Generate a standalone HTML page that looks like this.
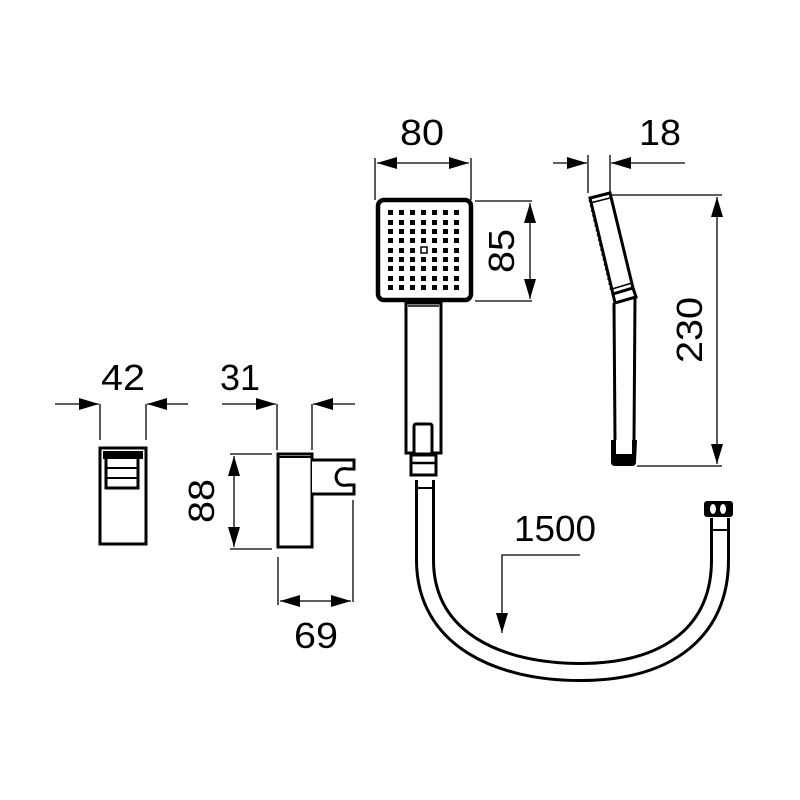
<!DOCTYPE html>
<html><head><meta charset="utf-8"><style>html,body{margin:0;padding:0;background:#fff}svg{display:block}</style></head>
<body>
<svg width="800" height="800" viewBox="0 0 800 800" xmlns="http://www.w3.org/2000/svg" font-family="Liberation Sans, sans-serif" font-size="36" fill="none" stroke="#000">
<defs>
<marker id="a" viewBox="0 0 10 10" refX="10" refY="5" markerWidth="10" markerHeight="10" markerUnits="userSpaceOnUse" orient="auto-start-reverse"><path d="M0,0 L10,5 L0,10z" fill="#000" stroke="none"/></marker>
<marker id="b" viewBox="0 0 20 12" refX="20" refY="6" markerWidth="20" markerHeight="12" markerUnits="userSpaceOnUse" orient="auto-start-reverse"><path d="M0,0 L20,6 L0,12z" fill="#000" stroke="none"/></marker>
</defs>
<g stroke-width="1.3">
<!-- 80 -->
<line x1="375" y1="158" x2="375" y2="200"/><line x1="471" y1="158" x2="471" y2="200"/>
<line x1="377" y1="163" x2="469" y2="163" marker-start="url(#b)" marker-end="url(#b)"/>
<!-- 18 -->
<line x1="588" y1="155" x2="588" y2="193"/><line x1="610" y1="155" x2="610" y2="193"/>
<line x1="553" y1="163" x2="587" y2="163" marker-end="url(#b)"/>
<line x1="685" y1="163" x2="611" y2="163" marker-end="url(#b)"/>
<!-- 85 -->
<line x1="475" y1="201" x2="532" y2="201"/><line x1="475" y1="301" x2="532" y2="301"/>
<line x1="530" y1="203" x2="530" y2="299" marker-start="url(#b)" marker-end="url(#b)"/>
<!-- 230 -->
<line x1="612" y1="195" x2="722" y2="195"/><line x1="637" y1="466" x2="722" y2="466"/>
<line x1="717" y1="197" x2="717" y2="464" marker-start="url(#b)" marker-end="url(#b)"/>
<!-- 42 -->
<line x1="100" y1="404" x2="100" y2="440"/><line x1="146" y1="404" x2="146" y2="440"/>
<line x1="55" y1="404" x2="99" y2="404" marker-end="url(#b)"/>
<line x1="188" y1="404" x2="147" y2="404" marker-end="url(#b)"/>
<!-- 31 -->
<line x1="277" y1="404" x2="277" y2="450"/><line x1="312" y1="404" x2="312" y2="450"/>
<line x1="222" y1="404" x2="276" y2="404" marker-end="url(#b)"/>
<line x1="355" y1="404" x2="313" y2="404" marker-end="url(#b)"/>
<!-- 88 -->
<line x1="230" y1="454" x2="272" y2="454"/><line x1="230" y1="549" x2="272" y2="549"/>
<line x1="234" y1="456" x2="234" y2="547" marker-start="url(#b)" marker-end="url(#b)"/>
<!-- 69 -->
<line x1="278" y1="557" x2="278" y2="605"/><line x1="353" y1="500" x2="353" y2="602"/>
<line x1="280" y1="601" x2="351" y2="601" marker-start="url(#b)" marker-end="url(#b)"/>
<!-- 1500 -->
<polyline points="580,555 502,555 502,633" marker-end="url(#b)"/>
</g>
<!-- texts -->
<g fill="#000" stroke="none" font-size="36">
<text x="422" y="145" text-anchor="middle" textLength="44" lengthAdjust="spacingAndGlyphs">80</text>
<text x="660" y="145" text-anchor="middle" textLength="42" lengthAdjust="spacingAndGlyphs">18</text>
<text x="123" y="390" text-anchor="middle" textLength="44" lengthAdjust="spacingAndGlyphs">42</text>
<text x="240" y="390" text-anchor="middle" textLength="40" lengthAdjust="spacingAndGlyphs">31</text>
<text x="316" y="648" text-anchor="middle" textLength="44" lengthAdjust="spacingAndGlyphs">69</text>
<text x="555" y="541" text-anchor="middle" textLength="82" lengthAdjust="spacingAndGlyphs">1500</text>
<text transform="translate(514,251) rotate(-90)" text-anchor="middle" textLength="44" lengthAdjust="spacingAndGlyphs">85</text>
<text transform="translate(214,501) rotate(-90)" text-anchor="middle" textLength="44" lengthAdjust="spacingAndGlyphs">88</text>
<text transform="translate(702,330) rotate(-90)" text-anchor="middle" textLength="66" lengthAdjust="spacingAndGlyphs">230</text>
</g>
<!-- hose -->
<path d="M425,480 L425,560 C425,640 500,672 580,672 C670,672 720,630 720,560 L720,518" stroke-width="20"/>
<path d="M425,480 L425,560 C425,640 500,672 580,672 C670,672 720,630 720,560 L720,518" stroke="#fff" stroke-width="14"/>
<line x1="712" y1="530" x2="728" y2="530" stroke-width="2"/>
<line x1="418" y1="488" x2="432" y2="488" stroke-width="2"/>
<rect x="704" y="501" width="29" height="16" rx="3" fill="#000" stroke="none"/>
<ellipse cx="713" cy="509" rx="3" ry="5" fill="#fff" stroke="none"/><ellipse cx="723" cy="509" rx="3" ry="5" fill="#fff" stroke="none"/>
<!-- front shower -->
<rect x="378" y="200" width="93" height="100" rx="6" stroke-width="4.5" fill="#fff"/>
<g fill="#000" stroke="none">
<rect x="388" y="210" width="5" height="5"/><rect x="399" y="210" width="5" height="5"/><rect x="410" y="210" width="5" height="5"/><rect x="421" y="210" width="5" height="5"/><rect x="432" y="210" width="5" height="5"/><rect x="443" y="210" width="5" height="5"/><rect x="454" y="210" width="5" height="5"/>
<rect x="388" y="220" width="5" height="5"/><rect x="399" y="220" width="5" height="5"/><rect x="410" y="220" width="5" height="5"/><rect x="421" y="220" width="5" height="5"/><rect x="432" y="220" width="5" height="5"/><rect x="443" y="220" width="5" height="5"/><rect x="454" y="220" width="5" height="5"/>
<rect x="388" y="229" width="5" height="5"/><rect x="399" y="229" width="5" height="5"/><rect x="410" y="229" width="5" height="5"/><rect x="421" y="229" width="5" height="5"/><rect x="432" y="229" width="5" height="5"/><rect x="443" y="229" width="5" height="5"/><rect x="454" y="229" width="5" height="5"/>
<rect x="388" y="238" width="5" height="5"/><rect x="399" y="238" width="5" height="5"/><rect x="410" y="238" width="5" height="5"/><rect x="421" y="238" width="5" height="5"/><rect x="432" y="238" width="5" height="5"/><rect x="443" y="238" width="5" height="5"/><rect x="454" y="238" width="5" height="5"/>
<rect x="388" y="248" width="5" height="5"/><rect x="399" y="248" width="5" height="5"/><rect x="410" y="248" width="5" height="5"/><rect x="432" y="248" width="5" height="5"/><rect x="443" y="248" width="5" height="5"/><rect x="454" y="248" width="5" height="5"/>
<rect x="388" y="257" width="5" height="5"/><rect x="399" y="257" width="5" height="5"/><rect x="410" y="257" width="5" height="5"/><rect x="421" y="257" width="5" height="5"/><rect x="432" y="257" width="5" height="5"/><rect x="443" y="257" width="5" height="5"/><rect x="454" y="257" width="5" height="5"/>
<rect x="388" y="266" width="5" height="5"/><rect x="399" y="266" width="5" height="5"/><rect x="410" y="266" width="5" height="5"/><rect x="421" y="266" width="5" height="5"/><rect x="432" y="266" width="5" height="5"/><rect x="443" y="266" width="5" height="5"/><rect x="454" y="266" width="5" height="5"/>
<rect x="388" y="276" width="5" height="5"/><rect x="399" y="276" width="5" height="5"/><rect x="410" y="276" width="5" height="5"/><rect x="421" y="276" width="5" height="5"/><rect x="432" y="276" width="5" height="5"/><rect x="443" y="276" width="5" height="5"/><rect x="454" y="276" width="5" height="5"/>
<rect x="388" y="285" width="5" height="5"/><rect x="399" y="285" width="5" height="5"/><rect x="410" y="285" width="5" height="5"/><rect x="421" y="285" width="5" height="5"/><rect x="432" y="285" width="5" height="5"/><rect x="443" y="285" width="5" height="5"/><rect x="454" y="285" width="5" height="5"/>
</g>
<rect x="421" y="247" width="6" height="6" stroke-width="1.5"/>
<rect x="406" y="303" width="35" height="150" stroke-width="3" fill="#fff"/>
<line x1="408" y1="306" x2="439" y2="306" stroke-width="1.5"/>
<rect x="414" y="424" width="18" height="30" rx="2" stroke-width="3" fill="#fff"/>
<rect x="411" y="455" width="25" height="20" stroke-width="3" fill="#fff"/>
<line x1="411" y1="463" x2="436" y2="463" stroke-width="2.5"/>
<!-- side shower -->
<path d="M590,198 L610,193 L633,288 L613,294 Z" stroke-width="3" fill="#fff"/>
<line x1="590" y1="203" x2="610" y2="198" stroke-width="1.5"/>
<path d="M590,200 L612,292" stroke-width="3" stroke-dasharray="2 3"/>
<line x1="612" y1="289" x2="632" y2="283" stroke-width="1.5"/>
<path d="M613,294 L633,288 L636,297 L615,303 Z" stroke-width="3" fill="#fff"/>
<path d="M614,303 L615,440 M635,297 L634,440" stroke-width="3"/>
<path d="M611,440 L637,440 L636,462 Q636,466 632,466 L615,466 Q611,466 611,462 Z" fill="#000" stroke="none"/>
<rect x="616" y="440" width="16" height="14" fill="#fff" stroke="none"/>
<!-- left part -->
<rect x="100" y="448" width="46" height="96" stroke-width="3" fill="#fff"/>
<rect x="103" y="451" width="40" height="8" fill="#000" stroke="none"/>
<rect x="106" y="456" width="32" height="32" stroke-width="3"/>
<line x1="106" y1="468" x2="138" y2="468" stroke-width="2"/>
<line x1="106" y1="478" x2="138" y2="478" stroke-width="2"/>
<!-- bracket -->
<rect x="278" y="454" width="34" height="93" stroke-width="3" fill="#fff"/>
<line x1="278" y1="457" x2="312" y2="457" stroke-width="2"/>
<path d="M312,460 L354,460 L354,469 L348,469 Q337,467 336,477 Q337,487 348,485 L354,485 L354,494 L312,494" stroke-width="3" fill="#fff"/>
</svg>
</body></html>
